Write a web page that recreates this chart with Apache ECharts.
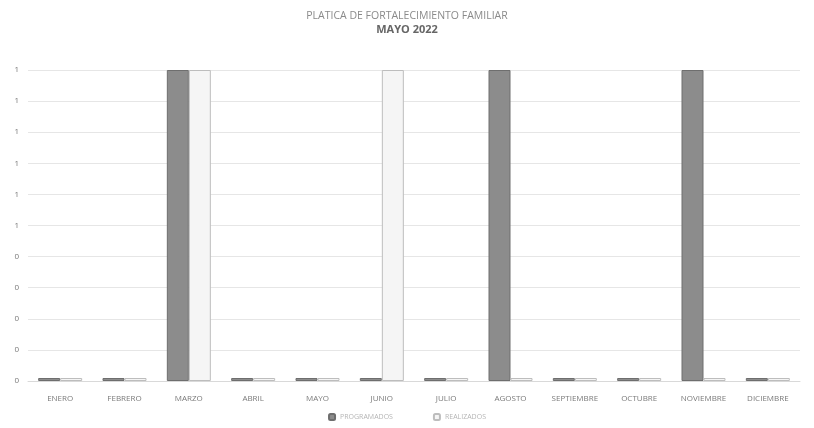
<!DOCTYPE html>
<html>
<head>
<meta charset="utf-8">
<script src="https://cdn.jsdelivr.net/npm/echarts@6/dist/echarts.min.js"></script>
<style>
html,body{margin:0;padding:0;background:#fff;}
#chart{width:814px;height:428px;}
</style>
</head>
<body>
<div id="chart"></div>
<script>
var categories = ['ENERO','FEBRERO','MARZO','ABRIL','MAYO','JUNIO','JULIO','AGOSTO','SEPTIEMBRE','OCTUBRE','NOVIEMBRE','DICIEMBRE'];
var seriesNames = ['PROGRAMADOS','REALIZADOS'];
var programados = [0,0,1,0,0,0,0,1,0,0,1,0];
var realizados = [0,0,1,0,0,1,0,0,0,0,0,0];
var titleText = 'PLATICA DE FORTALECIMIENTO FAMILIAR';
var subtitleText = 'MAYO 2022';

var chart = echarts.init(document.getElementById('chart'));
chart.setOption({
  backgroundColor: '#ffffff',
  animation: false,
  title: {
    text: titleText,
    subtext: subtitleText,
    left: 'center',
    top: 6,
    itemGap: 2,
    textStyle: {fontFamily: 'Open Sans', fontSize: 10.5, fontWeight: 'normal', color: '#8a8a8a'},
    subtextStyle: {fontFamily: 'Open Sans', fontSize: 11, fontWeight: 'bold', color: '#666'}
  },
  legend: {
    bottom: 2,
    left: 'center',
    itemWidth: 6,
    itemHeight: 6,
    itemGap: 40,
    textStyle: {fontFamily: 'Open Sans', fontSize: 7, color: '#b5b5b5'},
    data: seriesNames
  },
  grid: {left: 28, right: 14, top: 70, bottom: 47},
  xAxis: {
    type: 'category',
    data: categories,
    axisLine: {lineStyle: {color: '#d9d9d9'}},
    axisTick: {show: false},
    axisLabel: {interval: 0, fontFamily: 'Open Sans', fontSize: 8, color: '#7a7a7a', margin: 14}
  },
  yAxis: {
    type: 'value',
    min: 0,
    max: 1,
    interval: 0.1,
    axisLine: {show: false},
    axisTick: {show: false},
    axisLabel: {fontFamily: 'Open Sans', fontSize: 8, color: '#777', margin: 9,
      formatter: function(v){ return String(Math.round(v)); }},
    splitLine: {lineStyle: {color: '#e6e6e6'}}
  },
  series: [
    {
      name: seriesNames[0],
      type: 'bar',
      data: programados,
      barWidth: 22,
      barGap: '0%',
      barMinHeight: 3,
      itemStyle: {color: '#8c8c8c', borderColor: '#6e6e6e', borderWidth: 1}
    },
    {
      name: seriesNames[1],
      type: 'bar',
      data: realizados,
      barWidth: 22,
      barMinHeight: 3,
      itemStyle: {color: '#f5f5f5', borderColor: '#bdbdbd', borderWidth: 1}
    }
  ]
});
</script>
</body>
</html>
